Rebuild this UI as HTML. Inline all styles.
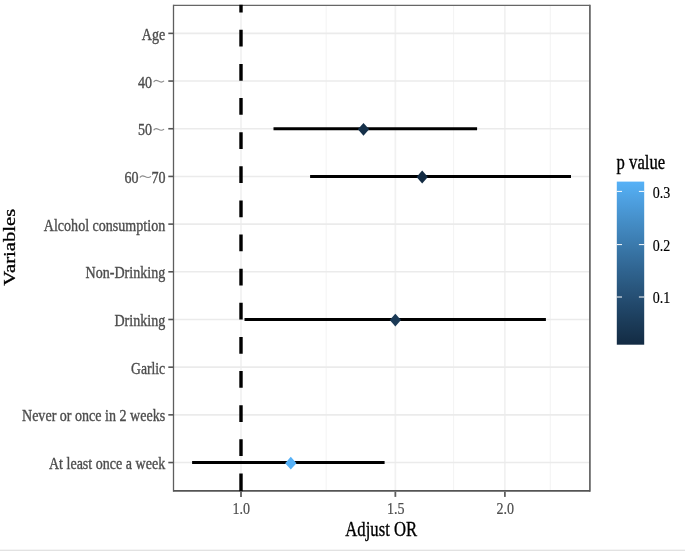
<!DOCTYPE html><html><head><meta charset="utf-8"><style>html,body{margin:0;padding:0;background:#fff;width:685px;height:551px;overflow:hidden}svg{display:block;filter:blur(0.4px)}text{font-family:"Liberation Serif",serif}</style></head><body>
<svg width="685" height="551" viewBox="0 0 685 551">
<g>
<defs><linearGradient id="cb" x1="0" y1="0" x2="0" y2="1">
<stop offset="0.000" stop-color="#56b1f7"/>
<stop offset="0.050" stop-color="#52aaed"/>
<stop offset="0.100" stop-color="#4fa2e3"/>
<stop offset="0.150" stop-color="#4b9bda"/>
<stop offset="0.200" stop-color="#4894d0"/>
<stop offset="0.250" stop-color="#448dc6"/>
<stop offset="0.300" stop-color="#4186bd"/>
<stop offset="0.350" stop-color="#3d7fb4"/>
<stop offset="0.400" stop-color="#3a78aa"/>
<stop offset="0.450" stop-color="#3671a1"/>
<stop offset="0.500" stop-color="#336a98"/>
<stop offset="0.550" stop-color="#2f638f"/>
<stop offset="0.600" stop-color="#2c5d86"/>
<stop offset="0.650" stop-color="#29567d"/>
<stop offset="0.700" stop-color="#265075"/>
<stop offset="0.750" stop-color="#22496c"/>
<stop offset="0.800" stop-color="#1f4364"/>
<stop offset="0.850" stop-color="#1c3d5b"/>
<stop offset="0.900" stop-color="#193753"/>
<stop offset="0.950" stop-color="#16314b"/>
<stop offset="1.000" stop-color="#132b43"/>
</linearGradient></defs>
<rect width="685" height="551" fill="#fff"/>
<rect x="0" y="549" width="685" height="1" fill="#f5f5f5"/>
<rect x="0" y="550" width="685" height="1" fill="#e2e2e2"/>
<line x1="326.20" y1="5.4" x2="326.20" y2="490.8" stroke="#f4f4f4" stroke-width="1.1"/>
<line x1="453.60" y1="5.4" x2="453.60" y2="490.8" stroke="#f4f4f4" stroke-width="1.1"/>
<line x1="550.30" y1="5.4" x2="550.30" y2="490.8" stroke="#f4f4f4" stroke-width="1.1"/>
<line x1="241.00" y1="5.4" x2="241.00" y2="490.8" stroke="#f1f1f1" stroke-width="1.7"/>
<line x1="395.36" y1="5.4" x2="395.36" y2="490.8" stroke="#f1f1f1" stroke-width="1.7"/>
<line x1="504.88" y1="5.4" x2="504.88" y2="490.8" stroke="#f1f1f1" stroke-width="1.7"/>
<line x1="173.5" y1="33.37" x2="589.9" y2="33.37" stroke="#ebebeb" stroke-width="1.6"/>
<line x1="173.5" y1="81.06" x2="589.9" y2="81.06" stroke="#ebebeb" stroke-width="1.6"/>
<line x1="173.5" y1="128.74" x2="589.9" y2="128.74" stroke="#ebebeb" stroke-width="1.6"/>
<line x1="173.5" y1="176.43" x2="589.9" y2="176.43" stroke="#ebebeb" stroke-width="1.6"/>
<line x1="173.5" y1="224.11" x2="589.9" y2="224.11" stroke="#ebebeb" stroke-width="1.6"/>
<line x1="173.5" y1="271.80" x2="589.9" y2="271.80" stroke="#ebebeb" stroke-width="1.6"/>
<line x1="173.5" y1="319.48" x2="589.9" y2="319.48" stroke="#ebebeb" stroke-width="1.6"/>
<line x1="173.5" y1="367.17" x2="589.9" y2="367.17" stroke="#ebebeb" stroke-width="1.6"/>
<line x1="173.5" y1="414.85" x2="589.9" y2="414.85" stroke="#ebebeb" stroke-width="1.6"/>
<line x1="173.5" y1="462.54" x2="589.9" y2="462.54" stroke="#ebebeb" stroke-width="1.6"/>
<line x1="273.5" y1="128.74" x2="477.1" y2="128.74" stroke="#000" stroke-width="2.9"/>
<line x1="310.1" y1="176.43" x2="571.0" y2="176.43" stroke="#000" stroke-width="2.9"/>
<line x1="244.5" y1="319.48" x2="545.9" y2="319.48" stroke="#000" stroke-width="2.9"/>
<line x1="192.1" y1="462.54" x2="384.6" y2="462.54" stroke="#000" stroke-width="2.9"/>
<path d="M363.5,122.89 L369.15,129.34 L363.5,135.79 L357.85,129.34 Z" fill="#153049"/>
<path d="M422.2,170.58 L427.84999999999997,177.03 L422.2,183.47 L416.55,177.03 Z" fill="#132b43"/>
<path d="M395.35,313.63 L401.0,320.08 L395.35,326.53 L389.70000000000005,320.08 Z" fill="#1a3956"/>
<path d="M290.8,456.69 L296.45,463.14 L290.8,469.59 L285.15000000000003,463.14 Z" fill="#56b1f7"/>
<line x1="173.5" y1="4.7" x2="173.5" y2="491.7" stroke="#5e5e5e" stroke-width="1.3"/>
<line x1="589.9" y1="4.7" x2="589.9" y2="491.7" stroke="#6a6a6a" stroke-width="1.8"/>
<line x1="173.5" y1="5.4" x2="589.9" y2="5.4" stroke="#666" stroke-width="1.4"/>
<line x1="173.5" y1="490.8" x2="589.9" y2="490.8" stroke="#555" stroke-width="1.8"/>
<line x1="241" y1="490.25" x2="241" y2="4.800000000000001" stroke="#000" stroke-width="3.4" stroke-dasharray="16.75 17.38"/>
<rect x="239.3" y="490.1" width="3.4" height="1.1" fill="#000"/>
<line x1="168.3" y1="33.37" x2="173.5" y2="33.37" stroke="#555" stroke-width="1.6"/>
<line x1="168.3" y1="81.06" x2="173.5" y2="81.06" stroke="#555" stroke-width="1.6"/>
<line x1="168.3" y1="128.74" x2="173.5" y2="128.74" stroke="#555" stroke-width="1.6"/>
<line x1="168.3" y1="176.43" x2="173.5" y2="176.43" stroke="#555" stroke-width="1.6"/>
<line x1="168.3" y1="224.11" x2="173.5" y2="224.11" stroke="#555" stroke-width="1.6"/>
<line x1="168.3" y1="271.80" x2="173.5" y2="271.80" stroke="#555" stroke-width="1.6"/>
<line x1="168.3" y1="319.48" x2="173.5" y2="319.48" stroke="#555" stroke-width="1.6"/>
<line x1="168.3" y1="367.17" x2="173.5" y2="367.17" stroke="#555" stroke-width="1.6"/>
<line x1="168.3" y1="414.85" x2="173.5" y2="414.85" stroke="#555" stroke-width="1.6"/>
<line x1="168.3" y1="462.54" x2="173.5" y2="462.54" stroke="#555" stroke-width="1.6"/>
<line x1="241.00" y1="491.7" x2="241.00" y2="496.9" stroke="#5e5e5e" stroke-width="1.8"/>
<line x1="395.36" y1="491.7" x2="395.36" y2="496.9" stroke="#5e5e5e" stroke-width="1.8"/>
<line x1="504.88" y1="491.7" x2="504.88" y2="496.9" stroke="#5e5e5e" stroke-width="1.8"/>
<g transform="translate(165.20,39.97) scale(0.873,1)"><text x="0" y="0" font-size="16.1" text-anchor="end" fill="#4d4d4d" stroke="#4d4d4d" stroke-width="0.35">Age</text></g>
<g transform="translate(165.20,230.71) scale(0.873,1)"><text x="0" y="0" font-size="16.1" text-anchor="end" fill="#4d4d4d" stroke="#4d4d4d" stroke-width="0.35">Alcohol consumption</text></g>
<g transform="translate(165.20,278.40) scale(0.873,1)"><text x="0" y="0" font-size="16.1" text-anchor="end" fill="#4d4d4d" stroke="#4d4d4d" stroke-width="0.35">Non-Drinking</text></g>
<g transform="translate(165.20,326.08) scale(0.873,1)"><text x="0" y="0" font-size="16.1" text-anchor="end" fill="#4d4d4d" stroke="#4d4d4d" stroke-width="0.35">Drinking</text></g>
<g transform="translate(165.20,373.77) scale(0.85,1)"><text x="0" y="0" font-size="16.1" text-anchor="end" fill="#4d4d4d" stroke="#4d4d4d" stroke-width="0.35">Garlic</text></g>
<g transform="translate(165.20,421.45) scale(0.873,1)"><text x="0" y="0" font-size="16.1" text-anchor="end" fill="#4d4d4d" stroke="#4d4d4d" stroke-width="0.35">Never or once in 2 weeks</text></g>
<g transform="translate(165.20,469.14) scale(0.873,1)"><text x="0" y="0" font-size="16.1" text-anchor="end" fill="#4d4d4d" stroke="#4d4d4d" stroke-width="0.35">At least once a week</text></g>
<g transform="translate(152.00,87.66) scale(0.873,1)"><text x="0" y="0" font-size="16.1" text-anchor="end" fill="#4d4d4d" stroke="#4d4d4d" stroke-width="0.35">40</text></g>
<path d="M153.90,81.71 C154.68,80.51 156.35,80.01 158.31,81.11 S161.74,82.91 163.70,81.16" fill="none" stroke="#8a8a8a" stroke-width="1.15" stroke-linecap="round"/>
<g transform="translate(152.00,135.34) scale(0.873,1)"><text x="0" y="0" font-size="16.1" text-anchor="end" fill="#4d4d4d" stroke="#4d4d4d" stroke-width="0.35">50</text></g>
<path d="M153.90,129.89 C154.68,128.69 156.35,128.19 158.31,129.29 S161.74,131.09 163.70,129.34" fill="none" stroke="#8a8a8a" stroke-width="1.15" stroke-linecap="round"/>
<g transform="translate(138.60,183.03) scale(0.873,1)"><text x="0" y="0" font-size="16.1" text-anchor="end" fill="#4d4d4d" stroke="#4d4d4d" stroke-width="0.35">60</text></g>
<path d="M140.20,177.18 C141.03,175.97 142.80,175.47 144.88,176.58 S148.52,178.38 150.60,176.62" fill="none" stroke="#8a8a8a" stroke-width="1.15" stroke-linecap="round"/>
<g transform="translate(165.60,183.03) scale(0.873,1)"><text x="0" y="0" font-size="16.1" text-anchor="end" fill="#4d4d4d" stroke="#4d4d4d" stroke-width="0.35">70</text></g>
<g transform="translate(241.30,513.60) scale(0.873,1)"><text x="0" y="0" font-size="16.1" text-anchor="middle" fill="#4d4d4d" stroke="#4d4d4d" stroke-width="0.2">1.0</text></g>
<g transform="translate(395.66,513.60) scale(0.873,1)"><text x="0" y="0" font-size="16.1" text-anchor="middle" fill="#4d4d4d" stroke="#4d4d4d" stroke-width="0.2">1.5</text></g>
<g transform="translate(505.18,513.60) scale(0.873,1)"><text x="0" y="0" font-size="16.1" text-anchor="middle" fill="#4d4d4d" stroke="#4d4d4d" stroke-width="0.2">2.0</text></g>
<g transform="translate(381.20,535.90) scale(0.805,1)"><text x="0" y="0" font-size="20.7" text-anchor="middle" fill="#000" stroke="#000" stroke-width="0.35">Adjust OR</text></g>
<g transform="translate(14.9,247.2) rotate(-90) scale(1,0.805)"><text x="0" y="0" font-size="20.7" text-anchor="middle" fill="#000" stroke="#000" stroke-width="0.35">Variables</text></g>
<g transform="translate(616.60,168.50) scale(0.805,1)"><text x="0" y="0" font-size="20.7" text-anchor="start" fill="#000" stroke="#000" stroke-width="0.35">p value</text></g>
<rect x="616.8" y="181.6" width="27.4" height="163.1" fill="url(#cb)"/>
<line x1="616.8" y1="191.4" x2="622" y2="191.4" stroke="#fff" stroke-width="1"/>
<line x1="638.9" y1="191.4" x2="644.2" y2="191.4" stroke="#fff" stroke-width="1"/>
<g transform="translate(652.80,197.50) scale(0.873,1)"><text x="0" y="0" font-size="16.1" text-anchor="start" fill="#000" stroke="#000" stroke-width="0.15">0.3</text></g>
<line x1="616.8" y1="244.6" x2="622" y2="244.6" stroke="#fff" stroke-width="1"/>
<line x1="638.9" y1="244.6" x2="644.2" y2="244.6" stroke="#fff" stroke-width="1"/>
<g transform="translate(652.80,250.70) scale(0.873,1)"><text x="0" y="0" font-size="16.1" text-anchor="start" fill="#000" stroke="#000" stroke-width="0.15">0.2</text></g>
<line x1="616.8" y1="297.0" x2="622" y2="297.0" stroke="#fff" stroke-width="1"/>
<line x1="638.9" y1="297.0" x2="644.2" y2="297.0" stroke="#fff" stroke-width="1"/>
<g transform="translate(652.80,303.10) scale(0.873,1)"><text x="0" y="0" font-size="16.1" text-anchor="start" fill="#000" stroke="#000" stroke-width="0.15">0.1</text></g>
</g></svg></body></html>
